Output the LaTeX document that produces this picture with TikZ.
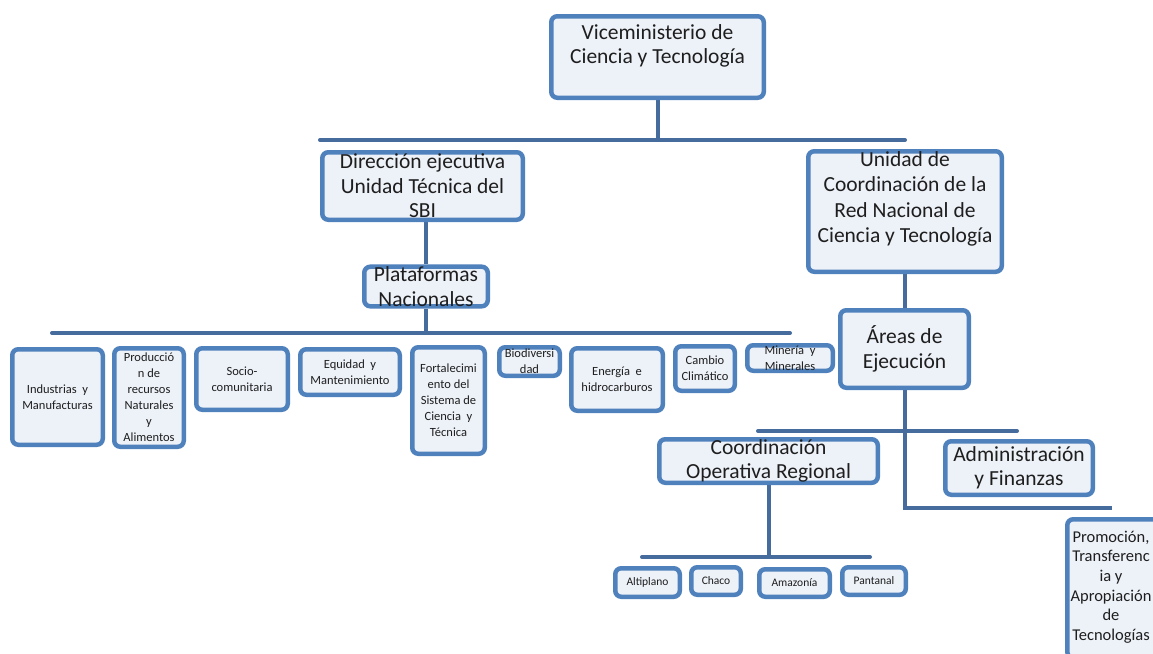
\documentclass[tikz,border=0pt]{standalone}
\usepackage{fontspec}
\setmainfont{Carlito}
\usetikzlibrary{backgrounds}
\definecolor{boxblue}{RGB}{79,129,189}
\definecolor{boxfill}{RGB}{237,241,248}
\definecolor{lineblue}{RGB}{70,108,158}
\definecolor{txt}{RGB}{30,30,30}
\tikzset{
  orgbox/.style={draw=boxblue, line width=4.5pt, rounded corners=6pt, fill=boxfill,
    inner sep=0pt, text=txt, align=center},
  big/.style={font=\fontsize{21.5}{24.5}\selectfont},
  mid/.style={font=\fontsize{12.5}{16}\selectfont},
  sml/.style={font=\fontsize{11.5}{15}\selectfont},
  conn/.style={draw=lineblue, line width=4pt},
}
\newcommand{\bx}[8]{% name, x1, y1, x2, y2, style, text
  \node[orgbox,#6, minimum width=#4-#2-4.5, minimum height=#5-#3-4.5] (#1) at ({(#2+#4)/2},{(#3+#5)/2}) {#7};}
\begin{document}
\begin{tikzpicture}[x=1pt,y=-1pt]
\clip (0,0) rectangle (1153,653);

\coordinate (topL) at (320,140);
\coordinate (topR) at (905,140);
\coordinate (platL) at (52,333);
\coordinate (platR) at (790,333);
\coordinate (areaL) at (758,431);
\coordinate (areaR) at (1017,431);
\coordinate (areaBR) at (1112,508);
\coordinate (regL) at (642,557);
\coordinate (regR) at (870,557);

% boxes
\bx{vm}{549}{14}{766}{100}{big}{}{}
\node[text=txt, big, align=center] at (657.5,46) {Viceministerio de\\Ciencia y Tecnología};
\bx{dir}{320}{150}{525}{222}{big}{Dirección ejecutiva\\Unidad Técnica del\\SBI}{}
\bx{uc}{806}{149}{1004}{274}{big}{}{}
\node[text=txt, big, align=center, font=\fontsize{21.5}{25.5}\selectfont] at (905,199) {Unidad de\\Coordinación de la\\Red Nacional de\\Ciencia y Tecnología};
\bx{plat}{362}{265}{490}{308}{big}{Plataformas\\Nacionales}{}
\bx{areas}{838}{308}{971}{390}{big}{Áreas de\\Ejecución}{}

\bx{ind}{10}{347}{105}{447}{mid}{Industrias\ \ y\\Manufacturas}{}
\bx{prod}{112}{346}{186}{449}{mid}{Producció\\n de\\recursos\\Naturales\\y\\Alimentos}{}
\bx{socio}{194}{346}{290}{412}{mid}{Socio-\\comunitaria}{}
\bx{equi}{298}{347}{402}{397}{mid}{Equidad\ \ y\\Mantenimiento}{}
\bx{fort}{410}{345}{487}{456}{mid}{Fortalecimi\\ento\ del\\Sistema\ de\\Ciencia\ \ y\\Técnica}{}
\bx{bio}{497}{345}{562}{378}{mid}{Biodiversi\\dad}{}
\bx{ener}{569}{346}{665}{413}{mid}{Energía\ \ e\\hidrocarburos}{}
\bx{camb}{673}{344}{737}{393}{mid}{Cambio\\Climático}{}
\bx{min}{745}{343}{835}{373}{mid}{Minería\ \ y\\Minerales}{}

\bx{coord}{657}{437}{880}{485}{big}{Coordinación\\Operativa Regional}{}
\bx{admin}{943}{439}{1095}{497}{big}{Administración\\y Finanzas}{}
\bx{prom}{1065}{517}{1164}{660}{mid}{}{}
\node[text=txt, font=\fontsize{16.5}{19.6}\selectfont, align=center] at (1111,587)
  {Promoción,\\Transferenc\\ia y\\Apropiación\\de\\Tecnologías};

\bx{alti}{613}{566}{682}{599}{sml}{Altiplano}{}
\bx{chaco}{689}{565}{743}{597}{sml}{Chaco}{}
\bx{amaz}{757}{567}{832}{599}{sml}{Amazonía}{}
\bx{pant}{840}{565}{908}{597}{sml}{Pantanal}{}

% connectors behind the boxes
\begin{scope}[on background layer]
\fill[white] (0,0) rectangle (1153,653);
\draw[conn] (vm.south) -- (vm.south |- topL);
\draw[conn, line cap=round] (topL) -- (topR);
\draw[conn] (dir.south -| plat.north) -- (plat.north);
\draw[conn] (plat.south) -- (plat.south |- platL);
\draw[conn, line cap=round] (platL) -- (platR);
\draw[conn] (uc.south -| areas.north) -- (areas.north);
\draw[conn] (areas.south) -- (areas.south |- areaBR) -- (areaBR);
\draw[conn, line cap=round] (areaL) -- (areaR);
\draw[conn] (coord.south) -- (coord.south |- regL);
\draw[conn, line cap=round] (regL) -- (regR);
\end{scope}
\end{tikzpicture}
\end{document}
